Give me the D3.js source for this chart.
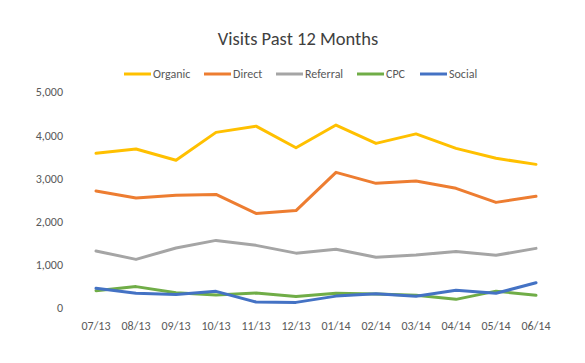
<!DOCTYPE html>
<html>
<head>
<meta charset="utf-8">
<script src="https://cdn.jsdelivr.net/npm/d3@7"></script>
<style>
  body { margin: 0; background: #fff; }
  svg text { font-family: Carlito, Calibri, "Liberation Sans", sans-serif; fill: #595959; }
</style>
</head>
<body>
<div id="chart"></div>
<script>
const months = ['07/13', '08/13', '09/13', '10/13', '11/13', '12/13', '01/14', '02/14', '03/14', '04/14', '05/14', '06/14'];
const organic = [3580, 3680, 3420, 4065, 4210, 3710, 4235, 3810, 4030, 3695, 3465, 3325];
const direct = [2710, 2545, 2610, 2630, 2190, 2255, 3140, 2885, 2940, 2770, 2445, 2585];
const referral = [1320, 1125, 1390, 1565, 1450, 1270, 1360, 1175, 1225, 1310, 1220, 1380];
const cpc = [400, 495, 355, 300, 345, 265, 340, 325, 295, 200, 390, 295];
const social = [455, 340, 315, 385, 140, 130, 275, 330, 270, 410, 340, 585];
const yTicks = [0, 1000, 2000, 3000, 4000, 5000];

const seriesNames = ['Organic', 'Direct', 'Referral', 'CPC', 'Social'];
const seriesData = [organic, direct, referral, cpc, social];
const seriesColors = ['#FFC000', '#ED7D31', '#A5A5A5', '#70AD47', '#4472C4'];

const WIDTH = 585, HEIGHT = 363;
const plot = { left: 76, right: 556, top: 92, bottom: 308 };

const svg = d3.select('#chart').append('svg')
  .attr('width', WIDTH)
  .attr('height', HEIGHT);

const x = d3.scaleBand()
  .domain(months)
  .range([plot.left, plot.right]);

const y = d3.scaleLinear()
  .domain([0, 5000])
  .range([plot.bottom, plot.top]);

// title
svg.append('text')
  .attr('x', 298)
  .attr('y', 45)
  .attr('text-anchor', 'middle')
  .style('font-size', '18.5px')
  .style('fill', '#404040')
  .text('Visits Past 12 Months');

// y axis labels only
const yAxis = svg.append('g')
  .attr('transform', `translate(${plot.left - 13}, 0)`)
  .call(d3.axisLeft(y).tickValues(yTicks).tickSize(0).tickPadding(0).tickFormat(d3.format(',')));
yAxis.select('.domain').remove();
yAxis.selectAll('text').style('font-size', '12px').style('font-family', null);

// x axis labels only
const xAxis = svg.append('g')
  .attr('transform', `translate(0, ${plot.bottom + 13})`)
  .call(d3.axisBottom(x).tickSize(0).tickPadding(0));
xAxis.select('.domain').remove();
xAxis.selectAll('text').style('font-size', '12px').style('font-family', null);

const line = d3.line()
  .x((d, i) => x(months[i]) + x.bandwidth() / 2)
  .y(d => y(d));

svg.append('g').selectAll('path')
  .data(seriesData)
  .enter().append('path')
  .attr('fill', 'none')
  .attr('stroke', (d, i) => seriesColors[i])
  .attr('stroke-width', 3)
  .attr('stroke-linejoin', 'round')
  .attr('stroke-linecap', 'round')
  .attr('d', line);

// legend
const legendX = [124, 204, 276, 357, 420];
const legend = svg.append('g').selectAll('g')
  .data(seriesNames)
  .enter().append('g')
  .attr('transform', (d, i) => `translate(${legendX[i]}, 74)`);
legend.append('line')
  .attr('x1', 0).attr('x2', 27)
  .attr('stroke', (d, i) => seriesColors[i])
  .attr('stroke-width', 3);
legend.append('text')
  .attr('x', 29)
  .attr('dy', '0.35em')
  .style('font-size', '12px')
  .text(d => d);
</script>
</body>
</html>
